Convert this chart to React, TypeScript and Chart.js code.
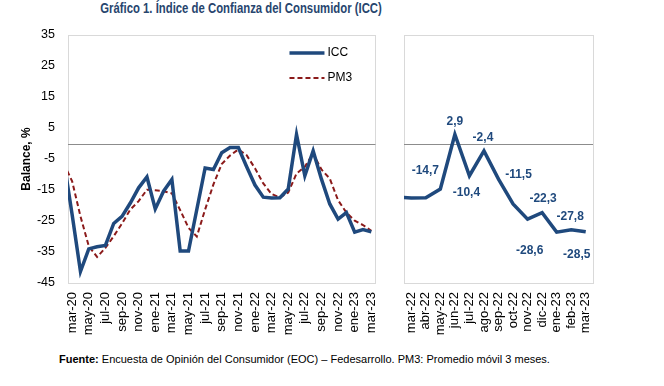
import React, { useEffect, useRef } from 'react';
import { Chart, registerables } from 'chart.js';
Chart.register(...registerables);

// Monthly categories (feb-20 is only the lead-in month, drawn off the left edge)
const months = ['feb-20','mar-20','abr-20','may-20','jun-20','jul-20','ago-20','sep-20','oct-20','nov-20','dic-20',
  'ene-21','feb-21','mar-21','abr-21','may-21','jun-21','jul-21','ago-21','sep-21','oct-21','nov-21','dic-21',
  'ene-22','feb-22','mar-22','abr-22','may-22','jun-22','jul-22','ago-22','sep-22','oct-22','nov-22','dic-22',
  'ene-23','feb-23','mar-23'];

const icc = [-5.6, -23.0, -41.3, -34.0, -33.3, -32.9, -25.8, -23.5, -19.2, -14.3, -10.8,
  -21.1, -15.4, -11.6, -34.7, -34.7, -21.3, -7.9, -8.4, -3.0, -1.3, -1.3, -7.5,
  -13.4, -17.3, -17.6, -17.5, -14.7, 2.9, -10.4, -2.4, -11.5, -19.5, -24.4, -22.3,
  -28.6, -27.8, -28.5];

const pm3 = [-6.5, -12.2, -23.5, -33.1, -36.6, -33.7, -29.9, -25.8, -21.3, -18.6, -14.9,
  -15.1, -15.4, -16.1, -21.5, -27.2, -30.0, -21.3, -13.2, -6.6, -3.9, -1.9, -3.8,
  -8.0, -12.9, -16.3, -17.4, -15.8, -9.7, -7.5, -3.2, -8.4, -11.3, -18.3, -22.3,
  -24.9, -26.3, -28.2];

// Left panel: tick labels every two months, mar-20 .. mar-23
const leftTickMonths = ['mar-20','may-20','jul-20','sep-20','nov-20','ene-21','mar-21','may-21','jul-21',
  'sep-21','nov-21','ene-22','mar-22','may-22','jul-22','sep-22','nov-22','ene-23','mar-23'];
// Right panel: feb-22 lead-in, then mar-22 .. mar-23
const rightStart = 'feb-22';
const rightTickMonths = ['mar-22','abr-22','may-22','jun-22','jul-22','ago-22','sep-22','oct-22','nov-22',
  'dic-22','ene-23','feb-23','mar-23'];
// Labelled points on the right panel
const labelMonths = ['may-22','jun-22','jul-22','ago-22','sep-22','dic-22','ene-23','feb-23','mar-23'];
const labelOffsets = [[-15,-18],[0,-13],[-3,17],[-1,-13],[20,-4],[1,-14],[-27,19],[-1,-13],[-9,23]];

const yTicks = { min: -45, max: 35, step: 10 };

const BLUE = '#1F497D';
const RED = '#8B1A1A';
const FONT = "'Liberation Sans', Arial, Helvetica, sans-serif";

const framePlugin = {
  id: 'frame',
  beforeDatasetsDraw(chart: any) {
    const { ctx, chartArea: a } = chart;
    const y = chart.scales.y;
    ctx.save();
    ctx.strokeStyle = '#d9d9d9';
    ctx.lineWidth = 1;
    ctx.strokeRect(Math.round(a.left) + 0.5, Math.round(a.top) + 0.5,
      Math.round(a.right - a.left), Math.round(a.bottom - a.top));
    const y0 = Math.round(y.getPixelForValue(0)) + 0.5;
    ctx.strokeStyle = '#8c8c8c';
    ctx.beginPath();
    ctx.moveTo(a.left, y0);
    ctx.lineTo(a.right, y0);
    ctx.stroke();
    ctx.restore();
  },
};

const legendPlugin = {
  id: 'customLegend',
  afterDraw(chart: any) {
    const { ctx, chartArea: a } = chart;
    const x0 = a.right - 86, x1 = a.right - 51;
    const rows = [
      { text: 'ICC', color: BLUE, width: 3.5, dash: [] as number[], dy: 18 },
      { text: 'PM3', color: RED, width: 2, dash: [5, 3], dy: 43 },
    ];
    ctx.save();
    rows.forEach((r) => {
      const yy = a.top + r.dy;
      ctx.strokeStyle = r.color;
      ctx.lineWidth = r.width;
      ctx.setLineDash(r.dash);
      ctx.beginPath();
      ctx.moveTo(x0, yy);
      ctx.lineTo(x1, yy);
      ctx.stroke();
      ctx.setLineDash([]);
      ctx.fillStyle = '#000';
      ctx.font = `12px ${FONT}`;
      ctx.textBaseline = 'middle';
      ctx.textAlign = 'left';
      ctx.fillText(r.text, x1 + 3, yy);
    });
    ctx.restore();
  },
};

const pointLabelPlugin = {
  id: 'pointLabels',
  afterDatasetsDraw(chart: any) {
    const { ctx } = chart;
    const xs = chart.scales.x, ys = chart.scales.y;
    ctx.save();
    ctx.font = `bold 12px ${FONT}`;
    ctx.fillStyle = BLUE;
    ctx.textAlign = 'center';
    ctx.textBaseline = 'middle';
    labelMonths.forEach((m, i) => {
      const idx = months.indexOf(m);
      const v = icc[idx];
      const px = xs.getPixelForValue(idx) + labelOffsets[i][0];
      const py = ys.getPixelForValue(v) + labelOffsets[i][1];
      ctx.fillText(v.toFixed(1).replace('.', ','), px, py);
    });
    ctx.restore();
  },
};

function pts(arr: number[], from: number) {
  const out: { x: number; y: number }[] = [];
  for (let i = from; i < arr.length; i++) out.push({ x: i, y: arr[i] });
  return out;
}

export default function App() {
  const leftRef = useRef<HTMLCanvasElement>(null);
  const rightRef = useRef<HTMLCanvasElement>(null);

  useEffect(() => {
    const leftIdx = leftTickMonths.map((m) => months.indexOf(m));
    const rightIdx = rightTickMonths.map((m) => months.indexOf(m));
    const rs = months.indexOf(rightStart);

    const yScale = (showTicks: boolean, w: number) => ({
      type: 'linear',
      min: yTicks.min,
      max: yTicks.max,
      display: true,
      grid: { display: false, drawTicks: false },
      border: { display: false },
      ticks: {
        display: showTicks,
        stepSize: yTicks.step,
        color: '#000',
        padding: 13,
        font: { family: FONT, size: 12.5 },
      },
      title: {
        display: showTicks,
        text: 'Balance, %',
        color: '#000',
        font: { family: FONT, size: 12, weight: 'bold' },
        padding: { top: 19, bottom: 0 },
      },
      afterFit: (s: any) => { s.width = w; },
    });

    const xScale = (minI: number, maxI: number, tickIdx: number[]) => ({
      type: 'linear',
      min: minI + 0.5,
      max: maxI + 0.5,
      bounds: 'data',
      grid: { display: false, drawTicks: false },
      border: { display: false },
      afterBuildTicks: (s: any) => { s.ticks = tickIdx.map((v) => ({ value: v })); },
      ticks: {
        autoSkip: false,
        minRotation: 90,
        maxRotation: 90,
        padding: 9,
        color: '#000',
        font: { family: FONT, size: 13 },
        callback: (v: any) => months[v] ?? '',
      },
      afterFit: (s: any) => { s.height = 67; },
    });

    const common = {
      responsive: false,
      animation: false,
      devicePixelRatio: 1,
      events: [],
      elements: { point: { radius: 0 }, line: { tension: 0 } },
    };

    const c1 = new Chart(leftRef.current as HTMLCanvasElement, {
      type: 'line',
      data: {
        datasets: [
          { label: 'PM3', data: pts(pm3, 0), borderColor: RED, borderWidth: 2, borderDash: [5, 3], clip: 0, order: 2 },
          { label: 'ICC', data: pts(icc, 0), borderColor: BLUE, borderWidth: 3.5, clip: 0, order: 1 },
        ],
      },
      options: {
        ...common,
        layout: { padding: { top: 35, right: 6, left: 0, bottom: 0 } },
        plugins: { legend: { display: false }, tooltip: { enabled: false } },
        scales: { x: xScale(0, months.length - 1, leftIdx), y: yScale(true, 68) },
      } as any,
      plugins: [framePlugin, legendPlugin],
    } as any);

    const c2 = new Chart(rightRef.current as HTMLCanvasElement, {
      type: 'line',
      data: {
        datasets: [
          { label: 'ICC', data: pts(icc, rs), borderColor: BLUE, borderWidth: 3.5, clip: 0 },
        ],
      },
      options: {
        ...common,
        layout: { padding: { top: 35, right: 71, left: 0, bottom: 0 } },
        plugins: { legend: { display: false }, tooltip: { enabled: false } },
        scales: { x: xScale(rs, months.length - 1, rightIdx), y: yScale(false, 8) },
      } as any,
      plugins: [framePlugin, pointLabelPlugin],
    } as any);

    return () => { c1.destroy(); c2.destroy(); };
  }, []);

  return (
    <div style={{ position: 'absolute', left: 0, top: 0, width: 664, height: 386, background: '#fff', overflow: 'hidden' }}>
      <div style={{ position: 'absolute', left: 0, top: 0, width: 482, textAlign: 'center', fontFamily: FONT, fontWeight: 'bold', fontSize: 14, lineHeight: '16px', color: '#27456e', whiteSpace: 'nowrap', transform: 'scaleX(0.81)', transformOrigin: '241px 8px' }}>
        Gráfico 1. Índice de Confianza del Consumidor (ICC)
      </div>
      <canvas ref={leftRef} width={396} height={350} style={{ position: 'absolute', left: 0, top: 0, width: 396, height: 350 }} />
      <canvas ref={rightRef} width={268} height={350} style={{ position: 'absolute', left: 396, top: 0, width: 268, height: 350 }} />
      <div style={{ position: 'absolute', left: 59, top: 352, fontFamily: FONT, fontSize: 11, lineHeight: '14px', color: '#000', whiteSpace: 'nowrap' }}>
        <b>Fuente:</b> Encuesta de Opinión del Consumidor (EOC) – Fedesarrollo. PM3: Promedio móvil 3 meses.
      </div>
    </div>
  );
}
